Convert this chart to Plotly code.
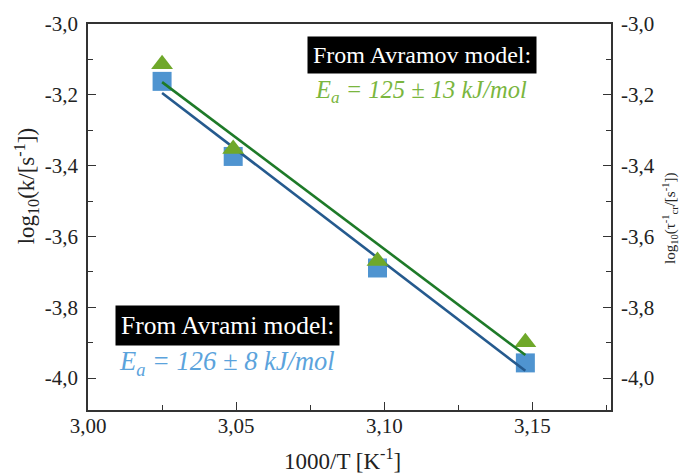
import numpy as np
import plotly.graph_objects as go

# Inverse temperature, 1000/T [1/K]
inv_T = [3.025, 3.049, 3.0977, 3.1476]
# log10 of the Avrami rate constant k [1/s]
log_k_avrami = [-3.162, -3.374, -3.689, -3.957]
# log10 of the inverse critical time from the Avramov model [1/s]
log_tau_avramov = [-3.114, -3.353, -3.669, -3.899]

y_ticks = [-3.0, -3.2, -3.4, -3.6, -3.8, -4.0]
y_tick_text = ["-3,0", "-3,2", "-3,4", "-3,6", "-3,8", "-4,0"]
x_ticks = [3.00, 3.05, 3.10, 3.15]
x_tick_text = ["3,00", "3,05", "3,10", "3,15"]

SERIF = "'Liberation Serif', 'Times New Roman', 'DejaVu Serif', serif"
BLUE_PT = "#4f94d0"
GREEN_PT = "#6fa82a"
BLUE_LN = "#255a8e"
GREEN_LN = "#1e7a28"

# Linear Arrhenius fits
x_arr = np.array(inv_T)
fit_x = np.array([x_arr.min(), x_arr.max()])
p_blue = np.polyfit(x_arr, log_k_avrami, 1)
p_green = np.polyfit(x_arr, log_tau_avramov, 1)

fig = go.Figure()
fig.add_trace(go.Scatter(
    x=inv_T, y=log_k_avrami, mode="markers", yaxis="y",
    marker=dict(symbol="square", size=19, color=BLUE_PT, line=dict(width=0)),
    showlegend=False))
fig.add_trace(go.Scatter(
    x=fit_x, y=np.polyval(p_blue, fit_x), mode="lines", yaxis="y",
    line=dict(color=BLUE_LN, width=2.6), showlegend=False))
fig.add_trace(go.Scatter(
    x=inv_T, y=log_tau_avramov, mode="markers", yaxis="y2",
    marker=dict(symbol="triangle-up", size=19, color=GREEN_PT, line=dict(width=0)),
    showlegend=False))
fig.add_trace(go.Scatter(
    x=fit_x, y=np.polyval(p_green, fit_x), mode="lines", yaxis="y2",
    line=dict(color=GREEN_LN, width=2.6), showlegend=False))

y_range = [-4.09, -3.0]
axis_font = dict(family=SERIF, size=21, color="#222")
common_y = dict(
    range=y_range, tickvals=y_ticks, ticktext=y_tick_text,
    ticks="inside", ticklen=8, tickwidth=1.3, tickcolor="#333",
    showline=True, linecolor="#333", linewidth=1.6,
    showgrid=False, zeroline=False, tickfont=axis_font,
    minor=dict(ticks="inside", ticklen=5, tickwidth=1.2, tickcolor="#333",
               dtick=0.1, tick0=-3.0, showgrid=False),
    ticklabelstandoff=4,
)

fig.update_layout(
    width=684, height=473,
    margin=dict(l=88, r=73, t=20, b=63),
    paper_bgcolor="white", plot_bgcolor="white",
    font=dict(family=SERIF, color="#222"),
    xaxis=dict(
        range=[3.0, 3.1765], tickvals=x_ticks, ticktext=x_tick_text,
        ticks="inside", ticklen=8, tickwidth=1.3, tickcolor="#333",
        showline=True, linecolor="#333", linewidth=1.6, mirror=True,
        showgrid=False, zeroline=False, tickfont=axis_font,
        minor=dict(ticks="inside", ticklen=5, tickwidth=1.2, tickcolor="#333",
                   dtick=0.025, tick0=3.0, showgrid=False),
        ticklabelstandoff=-4,
    ),
    yaxis=dict(side="left", **common_y),
    yaxis2=dict(side="right", overlaying="y", anchor="x", **common_y),
)

def px_x(px):
    return (px - 88) / 523

def px_y(py):
    return (410 - py) / 390

annotations = [
    dict(text="From Avramov model:", x=px_x(421.5), y=px_y(51),
         font=dict(family=SERIF, size=24, color="white"),
         bgcolor="black", borderpad=5),
    dict(text="<i>E<sub>a</sub> = 125 ± 13 kJ/mol</i>", x=px_x(421), y=px_y(88),
         font=dict(family=SERIF, size=24.5, color="#7ab63e")),
    dict(text="From Avrami model:", x=px_x(227.5), y=px_y(325),
         font=dict(family=SERIF, size=25.5, color="white"),
         bgcolor="black", borderpad=5),
    dict(text="<i>E<sub>a</sub> = 126 ± 8 kJ/mol</i>", x=px_x(227), y=px_y(363),
         font=dict(family=SERIF, size=26.5, color="#5ba3dc")),
    dict(text="1000/T [K<sup>-1</sup>]", x=px_x(342), y=px_y(460),
         font=dict(family=SERIF, size=23, color="#222")),
    dict(text="log<sub>10</sub>(k/[s<sup>-1</sup>])", x=px_x(26), y=px_y(184),
         textangle=-90, font=dict(family=SERIF, size=23, color="#222")),
    dict(text="log<sub>10</sub>(τ<sup>-1</sup><sub>cr</sub>/[s<sup>-1</sup>])",
         x=px_x(670), y=px_y(217),
         textangle=-90, font=dict(family=SERIF, size=15, color="#222")),
]
for a in annotations:
    a.update(xref="paper", yref="paper", showarrow=False,
             xanchor="center", yanchor="middle")
fig.update_layout(annotations=annotations)

fig.write_html("out.html")
